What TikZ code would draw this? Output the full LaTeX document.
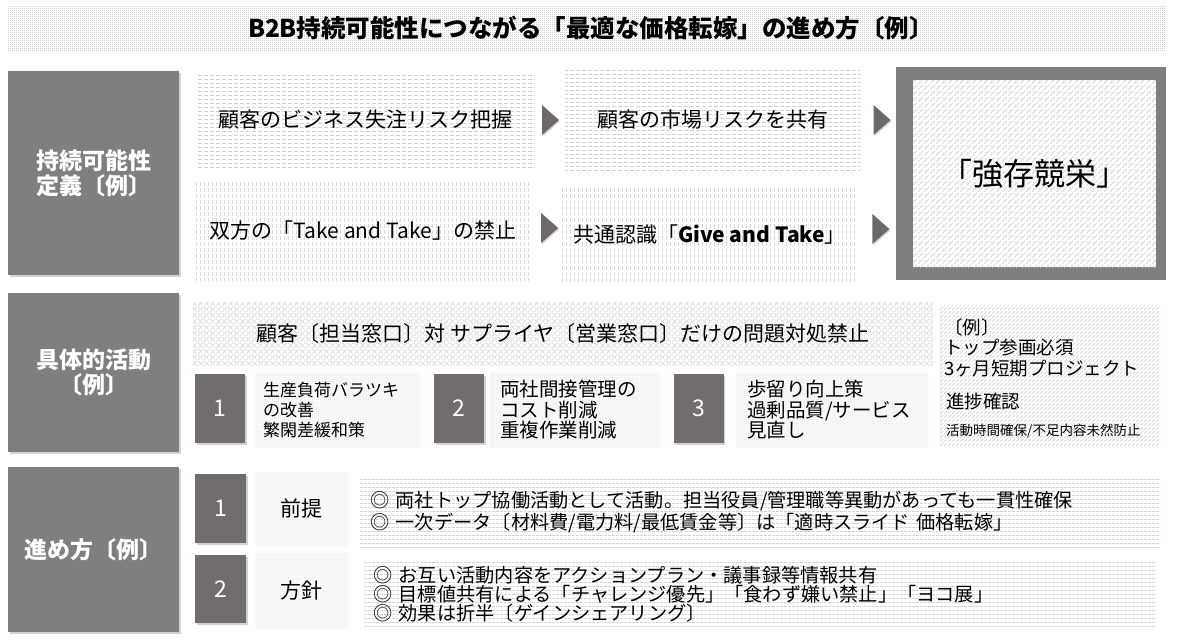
\documentclass[tikz,border=0pt]{standalone}
\usepackage{fontspec}
\setmainfont{Noto Sans CJK JP}
\usetikzlibrary{patterns,patterns.meta,shadows,calc}
\definecolor{sidegray}{HTML}{7F7F7F}
\definecolor{numgray}{HTML}{716D6C}
\definecolor{trigray}{HTML}{6D6969}
\newcommand{\myfs}[2]{\fontsize{#1}{#2}\selectfont}

\tikzdeclarepattern{name=pdots,type=uncolored,
  bottom left={(0pt,0pt)},top right={(2pt,2pt)},tile size={(2pt,2pt)},
  code={\fill (0pt,0pt) rectangle (1pt,1pt);}}
\tikzdeclarepattern{name=hdash,type=uncolored,
  bottom left={(0pt,0pt)},top right={(6pt,3.7pt)},tile size={(6pt,3.7pt)},
  code={\fill (0pt,0pt) rectangle (4.5pt,0.7pt);}}
\tikzdeclarepattern{name=vdash,type=uncolored,
  bottom left={(0pt,0pt)},top right={(3.7pt,6pt)},tile size={(3.7pt,6pt)},
  code={\fill (0pt,0pt) rectangle (0.7pt,4.5pt);}}
\tikzdeclarepattern{name=checker,type=uncolored,
  bottom left={(0pt,0pt)},top right={(2pt,2pt)},tile size={(2pt,2pt)},
  code={\fill (0pt,0pt) rectangle (1pt,1pt); \fill (1pt,1pt) rectangle (2pt,2pt);}}
\tikzdeclarepattern{name=hlines,type=uncolored,
  bottom left={(0pt,0pt)},top right={(4pt,3.6pt)},tile size={(4pt,3.6pt)},
  code={\fill (0pt,0pt) rectangle (4pt,0.7pt);}}
\tikzdeclarepattern{name=nelines,type=uncolored,
  bottom left={(0pt,0pt)},top right={(4pt,4pt)},tile size={(4pt,4pt)},
  code={\draw[line width=0.6pt] (0pt,0pt) -- (4pt,4pt);}}
\tikzdeclarepattern{name=weave,type=uncolored,
  bottom left={(0pt,0pt)},top right={(6pt,6pt)},tile size={(6pt,6pt)},
  code={\draw[line width=0.5pt] (0pt,0pt) -- (6pt,6pt);
        \draw[line width=0.5pt] (1.5pt,4.5pt) -- (3pt,3pt);}}
\tikzdeclarepattern{name=zig,type=uncolored,
  bottom left={(0pt,0pt)},top right={(6pt,6pt)},tile size={(6pt,6pt)},
  code={\draw[line width=0.5pt] (0pt,0pt) -- (6pt,6pt);
        \draw[line width=0.5pt] (0pt,6pt) -- (6pt,0pt);}}

\tikzset{
  pbox/.style={inner sep=0pt, draw=none},
  side/.style={fill=sidegray, text=white, font=\bfseries\myfs{23}{25}, align=center,
    inner sep=0pt, minimum width=171,
    drop shadow={opacity=0.35, shadow xshift=1.5pt, shadow yshift=-2pt}},
  num/.style={fill=numgray, text=white, font=\myfs{23}{25}, inner sep=0pt,
    minimum width=50, minimum height=69,
    drop shadow={opacity=0.35, shadow xshift=1.5pt, shadow yshift=-2pt}},
  tri/.style={fill=trigray, drop shadow={opacity=0.3, shadow xshift=1pt, shadow yshift=-1.5pt}},
  defbox/.style={pbox, font=\myfs{21}{24}},
}

\begin{document}
\begin{tikzpicture}[x=1pt,y=-1pt]
\useasboundingbox (0,0) rectangle (1177,641);
\fill[white] (0,0) rectangle (1177,641);

% title
\node[pbox, pattern=pdots, pattern color=gray!85, minimum width=1157, minimum height=45]
  (band) at (586.5,27.5) {};
\node[inner sep=0pt, font=\bfseries\myfs{24.5}{27}] (title) at (591,28)
  {B2B持続可能性につながる「最適な価格転嫁」の進め方〔例〕};

% left labels
\node[side, minimum height=204] (def) at (93.5,173) {持続可能性\\定義〔例〕};
\node[side, minimum height=159] (act) at (93.5,372.5) {具体的活動\\〔例〕};
\node[side, minimum height=165] (how) at (93.5,549.5) {進め方〔例〕};

% definition rows
\node[defbox, pattern=hdash, pattern color=gray!55, minimum width=339, minimum height=96]
  (r1a) at (365.5,120) {顧客のビジネス失注リスク把握};
\node[defbox, pattern=hdash, pattern color=gray!55, minimum width=295, minimum height=106]
  (r1b) at (712.5,120) {顧客の市場リスクを共有};
\node[defbox, pattern=vdash, pattern color=gray!45, minimum width=334, minimum height=98]
  (r2a) at (363,231) {双方の「Take and Take」の禁止};
\node[defbox, pattern=vdash, pattern color=gray!45, minimum width=295, minimum height=96]
  (r2b) at (709.5,235) {共通認識「\textbf{Give and Take}」};

\node[fill=sidegray, inner sep=0pt, minimum width=270, minimum height=213] (goal) at (1031,173.5) {};
\node[pbox, preaction={fill=white}, pattern=weave, pattern color=gray!40,
  minimum width=243, minimum height=187, font=\myfs{31}{33}] (goalin) at (1034.5,173.5) {「強存競栄」};

% arrow triangles
\coordinate (t1) at ($(r1a.east)!0.5!(r1b.west)$);
\coordinate (t2) at ($(r1b.east)!0.6!(r1b.east -| goal.west)$);
\coordinate (t3) at ($(r2a.east)!0.6!(r2a.east -| r2b.west)+(0,-3)$);
\coordinate (t4) at ($(r2b.east)!0.6!(r2b.east -| goal.west)+(0,-6)$);
\foreach \t in {t1,t2,t3,t4}
  \fill[tri] ($(\t)+(-8,-15)$) -- ($(\t)+(9,0)$) -- ($(\t)+(-8,15)$) -- cycle;

% activities
\node[pbox, pattern=zig, pattern color=gray!35, minimum width=740, minimum height=63,
  font=\myfs{21}{24}] (rule) at (563,333.5)
  {顧客〔担当窓口〕対 サプライヤ〔営業窓口〕だけの問題対処禁止};

\node[num] (n1) at (220,408.5) {1};
\node[num] (n2) at (459,408.5) {2};
\node[num] (n3) at (698.5,408.5) {3};

\node[pbox, pattern=checker, pattern color=gray!30, minimum height=74, anchor=west,
  inner xsep=8pt, text width=149, align=left, font=\myfs{17}{20}] (m1) at (255,410)
  {生産負荷バラツキ\\の改善\\繁閑差緩和策};
\node[pbox, pattern=checker, pattern color=gray!30, minimum height=74, anchor=west,
  inner xsep=10pt, text width=150, align=left, font=\myfs{19.5}{20.5}] (m2) at (490,410)
  {両社間接管理の\\コスト削減\\重複作業削減};
\node[pbox, pattern=checker, pattern color=gray!30, minimum height=74, anchor=west,
  inner xsep=11pt, text width=170, align=left, font=\myfs{19.5}{20.5}] (m3) at (736,410)
  {歩留り向上策\\過剰品質/サービス\\見直し};

\node[pbox, pattern=nelines, pattern color=gray!40, minimum width=220, minimum height=140]
  (ex) at (1050,375) {};
\node[anchor=west, align=left, inner sep=0pt, font=\myfs{18.5}{20.5}] (ex1) at (944,347.5)
  {〔例〕\\トップ参画必須\\3ヶ月短期プロジェクト};
\node[anchor=west, inner sep=0pt, font=\myfs{18.5}{20.5}] (ex2) at (946,401) {進捗確認};
\node[anchor=west, inner sep=0pt, font=\myfs{13.5}{15}] (ex3) at (946,431) {活動時間確保/不足内容未然防止};

% procedure
\node[num, minimum width=51, minimum height=69] (s1) at (220.5,508.5) {1};
\node[num, minimum width=51, minimum height=68] (s2) at (220.5,589) {2};
\node[pbox, pattern=checker, pattern color=gray!25, minimum width=93, minimum height=73,
  font=\myfs{21}{24}] (pre) at (301.5,508.5) {前提};
\node[pbox, pattern=checker, pattern color=gray!25, minimum width=93, minimum height=75,
  font=\myfs{21}{24}] (pol) at (301.5,590.5) {方針};

\node[pbox, pattern=hlines, pattern color=gray!50, minimum height=72, anchor=west,
  inner xsep=10pt, text width=780, align=left, font=\myfs{19.2}{22}] (p1) at (360,512)
  {◎ 両社トップ協働活動として活動。担当役員/管理職等異動があっても一貫性確保\\
   ◎ 一次データ〔材料費/電力料/最低賃金等〕は「適時スライド 価格転嫁」};
\node[pbox, pattern=hlines, pattern color=gray!50, minimum height=68, anchor=west,
  inner xsep=10pt, text width=773, align=left, font=\myfs{19.2}{19}] (p2) at (363,594)
  {◎ お互い活動内容をアクションプラン・議事録等情報共有\\
   ◎ 目標値共有による「チャレンジ優先」「食わず嫌い禁止」「ヨコ展」\\
   ◎ 効果は折半〔ゲインシェアリング〕};
\end{tikzpicture}
\end{document}
